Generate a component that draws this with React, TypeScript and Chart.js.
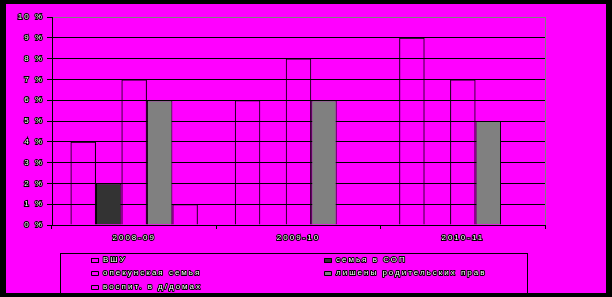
import React, { useEffect, useRef } from "react";
import { Chart, registerables } from "chart.js";

Chart.register(...registerables);

const categories = ["2008-09", "2009-10", "2010-11"];
const seriesNames = [
  "ВШУ",
  "семья в СОП",
  "опекунская семья",
  "лишены родительских прав",
  "воспит. в д/домах",
];
const vshu = [4, 6, 9];
const sop = [2, 0, 0];
const opek = [7, 8, 7];
const lisheny = [6, 6, 5];
const vospit = [1, 0, 0];
const seriesColors = ["#FF00FF", "#333333", "#FF00FF", "#808080", "#FF00FF"];
const barFills = ["rgba(255,0,255,0)", "#333333", "rgba(255,0,255,0)", "#808080", "rgba(255,0,255,0)"];
const yTicks = [0, 1, 2, 3, 4, 5, 6, 7, 8, 9, 10];

const MAGENTA = "#FF00FF";
const FONT = '"Liberation Sans", Arial, sans-serif';

function setSpacing(ctx: any) {
  ctx.letterSpacing = "2px";
}

const framePlugin = {
  id: "frame",
  beforeUpdate(chart: any) {
    setSpacing(chart.ctx);
  },
  beforeDraw(chart: any) {
    const ctx = chart.ctx;
    ctx.save();
    ctx.fillStyle = MAGENTA;
    ctx.fillRect(0, 0, chart.width, chart.height);
    ctx.restore();
    setSpacing(ctx);
  },
  afterDatasetsDraw(chart: any) {
    const ctx = chart.ctx;
    const a = chart.chartArea;
    ctx.save();
    ctx.strokeStyle = "#808080";
    ctx.lineWidth = 1;
    ctx.beginPath();
    ctx.moveTo(Math.round(a.right) + 0.5, Math.round(a.top));
    ctx.lineTo(Math.round(a.right) + 0.5, Math.round(a.bottom));
    ctx.stroke();
    ctx.restore();
  },
  afterDraw(chart: any) {
    const ctx = chart.ctx;
    ctx.save();
    setSpacing(ctx);
    ctx.strokeStyle = "#000";
    ctx.lineWidth = 1;
    ctx.strokeRect(60.5, 253.5, 467, 60);
    const cols = [91, 324];
    const rows = [259.5, 273, 286.5];
    ctx.font = "8px " + FONT;
    ctx.textBaseline = "middle";
    ctx.textAlign = "left";
    seriesNames.forEach((name, i) => {
      const col = i % 2;
      const row = Math.floor(i / 2);
      const x = cols[col];
      const y = rows[row];
      ctx.fillStyle = seriesColors[i];
      ctx.fillRect(x, Math.round(y) - 2, 8, 5);
      ctx.strokeStyle = "#000";
      ctx.lineWidth = 1;
      ctx.strokeRect(x + 0.5, Math.round(y) - 2 + 0.5, 7, 4);
      ctx.lineWidth = 2;
      ctx.lineJoin = "round";
      ctx.strokeText(name, x + 12, y);
      ctx.fillStyle = "#FFFFFF";
      ctx.fillText(name, x + 12, y);
    });
    ctx.fillStyle = "#000";
    ctx.fillRect(0, 0, chart.width, 4);
    ctx.fillRect(0, chart.height - 4, chart.width, 4);
    ctx.fillRect(0, 0, 6, chart.height);
    ctx.fillRect(chart.width - 6, 0, 6, chart.height);
    ctx.restore();
  },
};

export default function App() {
  const ref = useRef<HTMLCanvasElement>(null);
  useEffect(() => {
    document.body.style.margin = "0";
    const values = [vshu, sop, opek, lisheny, vospit];
    const chart = new Chart(ref.current!, {
      type: "bar",
      data: {
        labels: categories,
        datasets: seriesNames.map((name, i) => ({
          label: name,
          data: values[i],
          backgroundColor: barFills[i],
          borderColor: "#000000",
          borderWidth: 1,
          categoryPercentage: 0.775,
          barPercentage: 1,
        })),
      },
      options: {
        responsive: false,
        animation: false,
        events: [],
        layout: { padding: { top: 17, right: 67, bottom: 0, left: 0 } },
        plugins: {
          legend: { display: false },
          tooltip: { enabled: false },
          title: { display: false },
        },
        scales: {
          x: {
            grid: {
              offset: true,
              drawOnChartArea: false,
              drawTicks: true,
              tickLength: 4,
              color: "#000",
            },
            border: { display: true, color: "#000", width: 1 },
            ticks: {
              color: "#FFFFFF",
              font: { family: FONT, size: 8 },
              padding: 4,
              textStrokeColor: "#000",
              textStrokeWidth: 2,
              maxRotation: 0,
            },
            afterFit(scale: any) {
              scale.height = 72;
            },
          },
          y: {
            min: 0,
            max: 10,
            afterBuildTicks(scale: any) {
              scale.ticks = yTicks.map((v) => ({ value: v }));
            },
            grid: {
              color: (c: any) => (c.tick && c.tick.value === 10 ? "#808080" : "#000000"),
              drawTicks: true,
              tickLength: 5,
              tickColor: "#000",
            },
            border: { display: true, color: "#000", width: 1 },
            ticks: {
              color: "#FFFFFF",
              font: { family: FONT, size: 8 },
              padding: 3,
              textStrokeColor: "#000",
              textStrokeWidth: 2,
              callback: (v: any) => v + " %",
            },
            afterFit(scale: any) {
              scale.width = 52;
            },
          },
        },
      },
      plugins: [framePlugin],
    });
    return () => chart.destroy();
  }, []);
  return (
    <div style={{ width: 612, height: 297 }}>
      <canvas ref={ref} width={612} height={297} style={{ display: "block" }} />
    </div>
  );
}
